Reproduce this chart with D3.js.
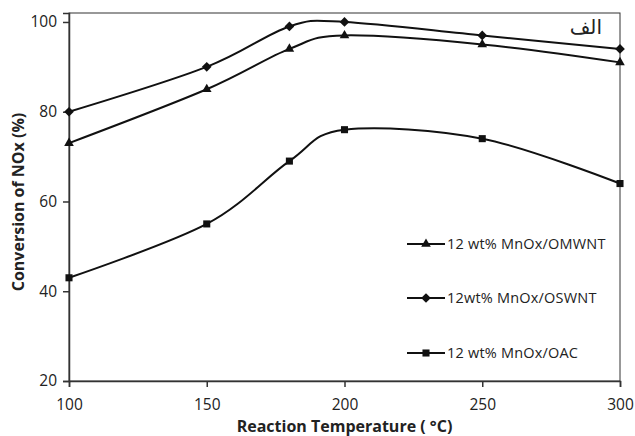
<!DOCTYPE html>
<html>
<head>
<meta charset="utf-8">
<script src="https://cdn.jsdelivr.net/npm/d3@7"></script>
<style>
  body { margin: 0; background: #fff; }
  text { font-family: "Open Sans", "Liberation Sans", sans-serif; fill: #222; }
</style>
</head>
<body>
<svg id="chart" width="635" height="436"></svg>
<script>
// data
var temps = [100, 150, 180, 200, 250, 300];
var omwnt = [73, 85, 94, 97, 95, 91];
var oswnt = [80, 90, 99, 100, 97, 94];
var oac = [43, 55, 69, 76, 74, 64];
var seriesNames = ["12 wt% MnOx/OMWNT", "12wt% MnOx/OSWNT", "12 wt% MnOx/OAC"];
var xTicks = [100, 150, 200, 250, 300];
var yTicks = [20, 40, 60, 80, 100];

var svg = d3.select("#chart");
var m = { left: 69, right: 620, top: 13, bottom: 381 };

var x = d3.scaleLinear().domain([100, 300]).range([m.left, m.right]);
var y = d3.scaleLinear().domain([20, 102]).range([m.bottom, m.top]);

// frame
svg.append("rect")
    .attr("x", m.left).attr("y", m.top)
    .attr("width", m.right - m.left).attr("height", m.bottom - m.top)
    .attr("fill", "none").attr("stroke", "#333").attr("stroke-width", 1);

// axes
var xAxis = svg.append("g")
    .attr("transform", "translate(0," + m.bottom + ")")
    .call(d3.axisBottom(x).tickValues(xTicks).tickSize(6).tickPadding(12));
var yAxis = svg.append("g")
    .attr("transform", "translate(" + m.left + ",0)")
    .call(d3.axisLeft(y).tickValues(yTicks).tickSize(6).tickPadding(6));
[xAxis, yAxis].forEach(function(a) {
  a.select(".domain").attr("stroke", "#333").attr("stroke-width", 1.5);
  a.selectAll(".tick line").attr("stroke", "#333").attr("stroke-width", 1.5);
  a.selectAll(".tick text").attr("font-size", 15.5).attr("fill", "#3a3020")
      .style("font-family", "'Open Sans', sans-serif");
});

// axis titles
svg.append("text")
    .attr("x", (m.left + m.right) / 2).attr("y", 432)
    .attr("text-anchor", "middle")
    .attr("font-size", 16).attr("font-weight", "bold")
    .text("Reaction Temperature ( °C)");
svg.append("text")
    .attr("transform", "translate(24,202) rotate(-90)")
    .attr("text-anchor", "middle")
    .attr("font-size", 16).attr("font-weight", "bold")
    .text("Conversion of NOx (%)");

// arabic label
svg.append("text")
    .attr("x", 602).attr("y", 34)
    .attr("text-anchor", "end")
    .attr("font-size", 20)
    .style("font-family", "'DejaVu Sans', sans-serif")
    .attr("fill", "#111")
    .text("الف");

var line = d3.line()
    .x(function(d, i) { return x(temps[i]); })
    .y(function(d) { return y(d); })
    .curve(d3.curveCardinal.tension(0));

var series = [
  { values: omwnt, symbol: d3.symbolTriangle, size: 40 },
  { values: oswnt, symbol: d3.symbolDiamond2, size: 60 },
  { values: oac, symbol: d3.symbolSquare, size: 50 }
];

series.forEach(function(s) {
  svg.append("path")
      .attr("d", line(s.values))
      .attr("fill", "none")
      .attr("stroke", "#111")
      .attr("stroke-width", 2);
  svg.selectAll(null)
      .data(s.values)
    .enter().append("path")
      .attr("transform", function(d, i) { return "translate(" + x(temps[i]) + "," + y(d) + ")"; })
      .attr("d", d3.symbol().type(s.symbol).size(s.size))
      .attr("fill", "#111");
});

// legend
var legendY = [244, 298, 353];
var legend = svg.selectAll(".legend")
    .data(series)
  .enter().append("g")
    .attr("transform", function(d, i) { return "translate(407," + legendY[i] + ")"; });
legend.append("line")
    .attr("x1", 0).attr("x2", 38)
    .attr("stroke", "#111").attr("stroke-width", 2);
legend.append("path")
    .attr("transform", "translate(19,0)")
    .attr("d", function(d) { return d3.symbol().type(d.symbol).size(d.size)(); })
    .attr("fill", "#111");
legend.append("text")
    .attr("x", 40).attr("dy", "0.35em")
    .attr("font-size", 14.5)
    .attr("letter-spacing", 0.2)
    .text(function(d, i) { return seriesNames[i]; });
</script>
</body>
</html>
